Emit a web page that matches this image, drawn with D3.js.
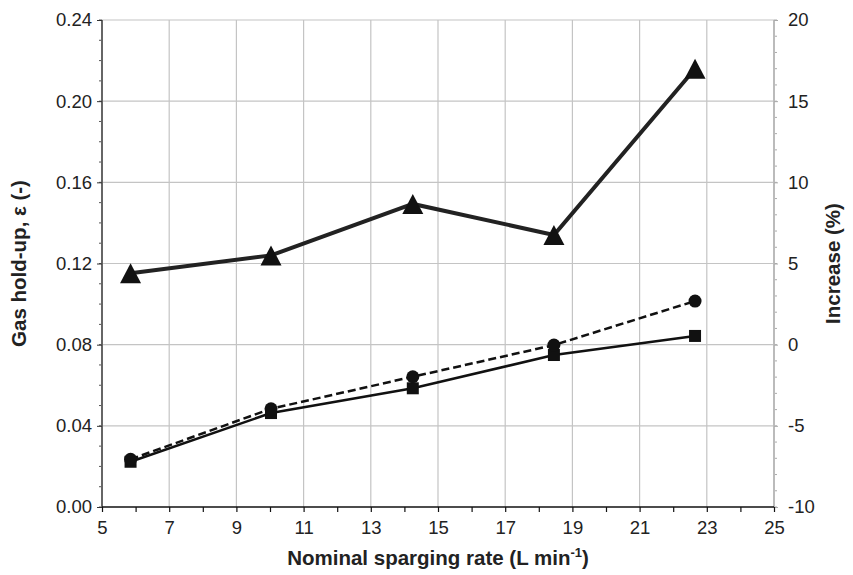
<html>
<head>
<meta charset="utf-8">
<script src="https://cdn.jsdelivr.net/npm/d3@7"></script>
<style>
  body { margin: 0; background: #fff; }
  text { font-family: "Liberation Sans", Arial, sans-serif; fill: #222; }
</style>
</head>
<body>
<div id="chart"></div>
<script>
// nominal sparging rate (L/min)
const rates = [5.85, 10.03, 14.25, 18.45, 22.65];
// gas hold-up, left axis
const holdupCircle = [0.0235, 0.0484, 0.0642, 0.0798, 0.1015];
const holdupSquare = [0.0223, 0.0463, 0.0585, 0.0749, 0.0843];
// increase (%), right axis
const increase = [4.4, 5.5, 8.67, 6.76, 17.0];

const xTicks = [5, 7, 9, 11, 13, 15, 17, 19, 21, 23, 25];
const yTicks = [0, 0.04, 0.08, 0.12, 0.16, 0.20, 0.24];
const y2Ticks = [-10, -5, 0, 5, 10, 15, 20];

const W = 853, H = 575;
const m = { left: 102, right: 79, top: 20, bottom: 68 };
const tickFont = 18.5, titleFont = 20.5;

const svg = d3.select('#chart').append('svg').attr('width', W).attr('height', H);

const x = d3.scaleLinear().domain([5, 25]).range([m.left, W - m.right]);
const y = d3.scaleLinear().domain([0, 0.24]).range([H - m.bottom, m.top]);
const y2 = d3.scaleLinear().domain([-10, 20]).range([H - m.bottom, m.top]);

// grid
const grid = svg.append('g').attr('stroke', '#c4c4c4').attr('stroke-width', 1.2);
grid.selectAll('.gx').data(xTicks.slice(1, -1)).enter().append('line')
  .attr('x1', d => x(d)).attr('x2', d => x(d))
  .attr('y1', y(0)).attr('y2', y(0.24));
grid.selectAll('.gy').data(yTicks.slice(1)).enter().append('line')
  .attr('x1', x(5)).attr('x2', x(25))
  .attr('y1', d => y(d)).attr('y2', d => y(d));

// minor ticks
const minorY = d3.range(0, 0.2401, 0.01);
svg.append('g').selectAll('line').data(minorY).enter().append('line')
  .attr('x1', x(5) - 3).attr('x2', x(5))
  .attr('y1', d => y(d)).attr('y2', d => y(d))
  .attr('stroke', '#555').attr('stroke-width', 1);
const minorY2 = d3.range(-10, 20.01, 1);
svg.append('g').selectAll('line').data(minorY2).enter().append('line')
  .attr('x1', x(25)).attr('x2', x(25) + 3)
  .attr('y1', d => y2(d)).attr('y2', d => y2(d))
  .attr('stroke', '#aaa').attr('stroke-width', 1);

// left axis
const gl = svg.append('g').attr('transform', `translate(${x(5)},0)`)
  .call(d3.axisLeft(y).tickValues(yTicks).tickFormat(d3.format('.2f')).tickSize(5).tickPadding(5));
gl.select('.domain').attr('stroke', '#666').attr('stroke-width', 2).attr('d', `M0,${y(0)}V${y(0.24)}`);
gl.selectAll('.tick line').attr('stroke', '#333');
gl.selectAll('text').attr('font-size', tickFont).attr('font-family', '"Liberation Sans", Arial, sans-serif').attr('fill', '#222');

// right axis
const gr = svg.append('g').attr('transform', `translate(${x(25)},0)`)
  .call(d3.axisRight(y2).tickValues(y2Ticks).tickFormat(d => String(d)).tickSize(4).tickPadding(10));
gr.select('.domain').attr('stroke', '#bbb').attr('stroke-width', 2).attr('d', `M0,${y2(-10)}V${y2(20)}`);
gr.selectAll('.tick line').attr('stroke', '#aaa');
gr.selectAll('text').attr('font-size', tickFont).attr('font-family', '"Liberation Sans", Arial, sans-serif').attr('fill', '#222');

// bottom axis
const gb = svg.append('g').attr('transform', `translate(0,${y(0)})`)
  .call(d3.axisBottom(x).tickValues(d3.range(5, 26, 1)).tickSize(5).tickPadding(9)
    .tickFormat(d => xTicks.includes(d) ? d : ''));
gb.select('.domain').attr('stroke', '#111').attr('stroke-width', 1.5).attr('d', `M${x(5)},0H${x(25)}`);
gb.selectAll('.tick line').attr('stroke', '#111').attr('stroke-width', 1.2);
gb.selectAll('text').attr('font-size', tickFont).attr('font-family', '"Liberation Sans", Arial, sans-serif').attr('fill', '#222');

// series lines
const pts = (ys, sy) => rates.map((r, i) => [x(r), sy(ys[i])]);
const line = d3.line();
svg.append('path').attr('d', line(pts(increase, y2)))
  .attr('fill', 'none').attr('stroke', '#222').attr('stroke-width', 4);
svg.append('path').attr('d', line(pts(holdupSquare, y)))
  .attr('fill', 'none').attr('stroke', '#111').attr('stroke-width', 2.5);
svg.append('path').attr('d', line(pts(holdupCircle, y)))
  .attr('fill', 'none').attr('stroke', '#111').attr('stroke-width', 2.5)
  .attr('stroke-dasharray', '8,4');

// markers
svg.append('g').selectAll('path').data(pts(increase, y2)).enter().append('path')
  .attr('d', d => `M${d[0]},${d[1] - 10}L${d[0] + 10.5},${d[1] + 10}L${d[0] - 10.5},${d[1] + 10}Z`)
  .attr('fill', '#111');
svg.append('g').selectAll('rect').data(pts(holdupSquare, y)).enter().append('rect')
  .attr('x', d => d[0] - 6).attr('y', d => d[1] - 6).attr('width', 12).attr('height', 12)
  .attr('fill', '#111');
svg.append('g').selectAll('circle').data(pts(holdupCircle, y)).enter().append('circle')
  .attr('cx', d => d[0]).attr('cy', d => d[1]).attr('r', 6.5)
  .attr('fill', '#111');

// axis titles
svg.append('text')
  .attr('transform', `translate(26,${(y(0) + y(0.24)) / 2}) rotate(-90)`)
  .attr('text-anchor', 'middle').attr('font-size', titleFont).attr('font-weight', 'bold')
  .text('Gas hold-up, ε (-)');
svg.append('text')
  .attr('transform', `translate(840,${(y(0) + y(0.24)) / 2}) rotate(-90)`)
  .attr('text-anchor', 'middle').attr('font-size', titleFont).attr('font-weight', 'bold')
  .text('Increase (%)');
const xt = svg.append('text')
  .attr('x', (x(5) + x(25)) / 2).attr('y', 565)
  .attr('text-anchor', 'middle').attr('font-size', titleFont).attr('font-weight', 'bold');
xt.append('tspan').text('Nominal sparging rate (L min');
xt.append('tspan').attr('dy', -8).attr('font-size', 13).text('-1');
xt.append('tspan').attr('dy', 8).text(')');
</script>
</body>
</html>
